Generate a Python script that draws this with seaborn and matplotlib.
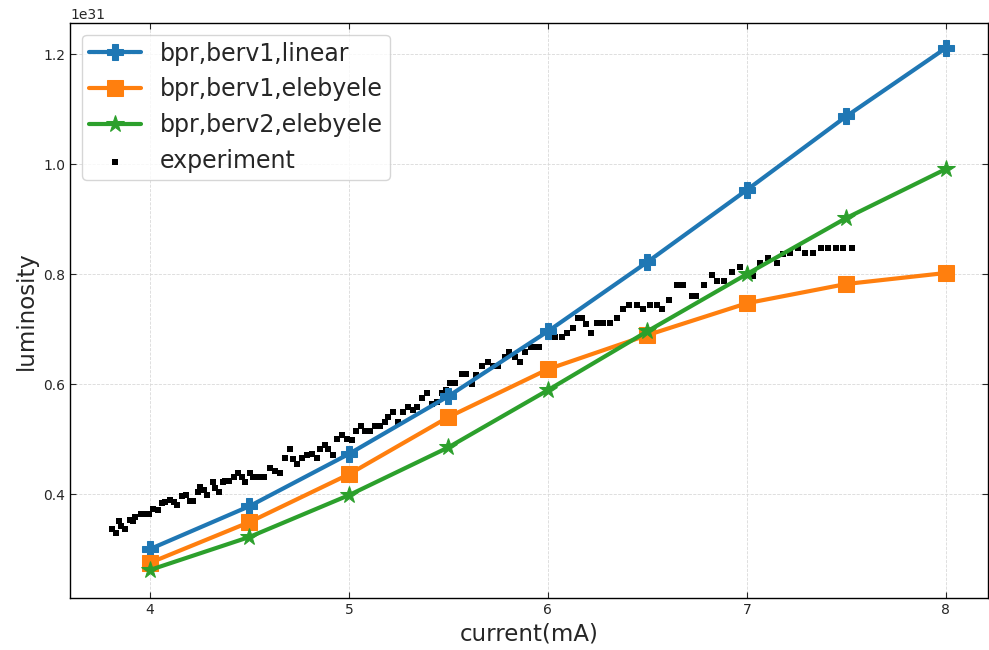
import numpy as np
import pandas as pd
import matplotlib
matplotlib.use("Agg")
import matplotlib.pyplot as plt
import seaborn as sns

SCALE = 1e31

current_model = [4.0, 4.5, 5.0, 5.5, 6.0, 6.5, 7.0, 7.5, 8.0]
lum_berv1_linear = [0.300, 0.378, 0.473, 0.578, 0.696, 0.822, 0.953, 1.087, 1.211]
lum_berv1_elebyele = [0.275, 0.349, 0.436, 0.540, 0.627, 0.689, 0.747, 0.782, 0.802]
lum_berv2_elebyele = [0.262, 0.322, 0.398, 0.485, 0.589, 0.696, 0.800, 0.902, 0.991]

exp_current = [
    3.809, 3.829, 3.844, 3.854, 3.874, 3.899, 3.915, 3.925, 3.955, 3.975,
    3.995, 4.015, 4.040, 4.060, 4.075, 4.101, 4.121, 4.136, 4.161, 4.181,
    4.201, 4.216, 4.241, 4.251, 4.271, 4.286, 4.317, 4.327, 4.347, 4.367,
    4.377, 4.397, 4.422, 4.442, 4.462, 4.477, 4.503, 4.518, 4.543, 4.573,
    4.603, 4.628, 4.653, 4.678, 4.704, 4.719, 4.739, 4.764, 4.789, 4.814,
    4.839, 4.854, 4.879, 4.894, 4.920, 4.940,
    4.965, 4.990, 5.015, 5.035, 5.060, 5.080, 5.106, 5.131, 5.156, 5.181,
    5.196, 5.221, 5.246, 5.271, 5.296, 5.322, 5.342, 5.367, 5.392, 5.417,
    5.442, 5.467, 5.487, 5.508, 5.533,
    5.568, 5.588, 5.618, 5.638, 5.668, 5.698, 5.724, 5.749, 5.784, 5.804,
    5.834, 5.859, 5.884, 5.915, 5.935, 5.955, 6.005, 6.035, 6.070, 6.095,
    6.126, 6.151,
    6.171, 6.191, 6.216, 6.246, 6.276, 6.312, 6.347, 6.377, 6.407, 6.447,
    6.477, 6.513, 6.548, 6.573, 6.608, 6.648, 6.678, 6.724, 6.744, 6.784,
    6.824, 6.849, 6.884, 6.925, 6.965, 7.000, 7.030, 7.065, 7.106, 7.151,
    7.181, 7.216, 7.256, 7.291, 7.332, 7.372, 7.407, 7.447, 7.482, 7.528,
]
exp_lum = [
    0.336, 0.329, 0.351, 0.342, 0.336, 0.353, 0.351, 0.358, 0.364, 0.364,
    0.364, 0.373, 0.371, 0.384, 0.385, 0.389, 0.385, 0.380, 0.396, 0.398,
    0.387, 0.387, 0.404, 0.413, 0.407, 0.398, 0.422, 0.411, 0.404, 0.422,
    0.424, 0.424, 0.431, 0.438, 0.431, 0.422, 0.438, 0.431, 0.431, 0.431,
    0.447, 0.442, 0.438, 0.465, 0.482, 0.464, 0.455, 0.465, 0.471, 0.473,
    0.465, 0.482, 0.489, 0.482, 0.471, 0.500,
    0.507, 0.500, 0.498, 0.515, 0.524, 0.515, 0.515, 0.524, 0.524, 0.531,
    0.540, 0.549, 0.531, 0.549, 0.558, 0.553, 0.558, 0.575, 0.584, 0.564,
    0.567, 0.584, 0.589, 0.602, 0.602,
    0.618, 0.618, 0.600, 0.616, 0.633, 0.640, 0.633, 0.633, 0.649, 0.658,
    0.649, 0.640, 0.658, 0.667, 0.667, 0.667, 0.687, 0.685, 0.685, 0.693,
    0.702, 0.720,
    0.720, 0.709, 0.693, 0.711, 0.711, 0.711, 0.720, 0.736, 0.744, 0.744,
    0.736, 0.744, 0.744, 0.736, 0.753, 0.780, 0.780, 0.760, 0.760, 0.780,
    0.798, 0.787, 0.787, 0.804, 0.813, 0.798, 0.796, 0.820, 0.829, 0.820,
    0.836, 0.838, 0.847, 0.838, 0.838, 0.847, 0.847, 0.847, 0.847, 0.847,
]

labels = ["bpr,berv1,linear", "bpr,berv1,elebyele", "bpr,berv2,elebyele"]
series = [lum_berv1_linear, lum_berv1_elebyele, lum_berv2_elebyele]
colors = ["#1f77b4", "#ff7f0e", "#2ca02c"]
markers = ["P", "s", "*"]
msizes = [12, 11, 13]

sns.set_style("ticks")
plt.rcParams["font.family"] = ["DejaVu Sans"]

fig = plt.figure(figsize=(9.89, 6.5), dpi=100)
ax = fig.add_axes([0.0708, 0.080, 0.928, 0.885])

for lab, vals, c, m, ms in zip(labels, series, colors, markers, msizes):
    df = pd.DataFrame({"current": current_model, "lum": np.array(vals) * SCALE})
    sns.lineplot(data=df, x="current", y="lum", ax=ax, color=c, marker=m,
                 markersize=ms, linewidth=3, markeredgecolor=c, label=lab)

dfe = pd.DataFrame({"current": exp_current, "lum": np.array(exp_lum) * SCALE})
sns.scatterplot(data=dfe, x="current", y="lum", ax=ax, color="black", marker="s",
                s=16, linewidth=0, label="experiment")

ax.set_xlim(3.598, 8.211)
ax.set_ylim(0.211 * SCALE, 1.257 * SCALE)
ax.set_xticks([4, 5, 6, 7, 8])
ax.set_yticks(np.array([0.4, 0.6, 0.8, 1.0, 1.2]) * SCALE)
ax.grid(True, linestyle="--", color="#d9d9d9", linewidth=0.6)
ax.tick_params(direction="in", top=True, right=True, labelsize=10, length=4)
for sp in ax.spines.values():
    sp.set_color("black")
    sp.set_linewidth(1.0)
ax.set_xlabel("current(mA)", fontsize=16.5)
ax.set_ylabel("luminosity", fontsize=16.5)
ax.yaxis.get_offset_text().set_fontsize(10)

leg = ax.legend(loc="upper left", fontsize=17, frameon=True, borderpad=0.3,
                handlelength=2.2, labelspacing=0.5, handletextpad=0.8)
leg.get_frame().set_edgecolor("#cccccc")

fig.savefig("out.png", dpi=100)
